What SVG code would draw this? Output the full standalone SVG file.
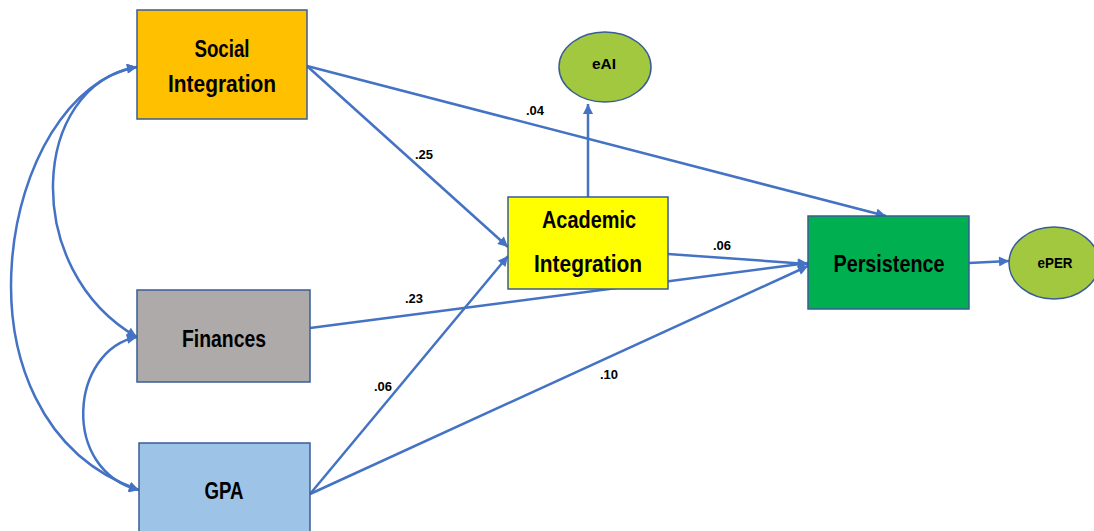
<svg xmlns="http://www.w3.org/2000/svg" width="1094" height="531" viewBox="0 0 1094 531">
<style>
.box{stroke:#3A5C98;stroke-width:1.5}
.ell{fill:#A1C83E;stroke:#3A5C98;stroke-width:1.5}
.lbl{font-family:"Liberation Sans",Arial,sans-serif;font-weight:bold;font-size:24px;fill:#000;text-anchor:middle}
.sm{font-family:"Liberation Sans",Arial,sans-serif;font-weight:bold;font-size:15px;fill:#000;text-anchor:middle}
.coef{font-family:"Liberation Sans",Arial,sans-serif;font-weight:bold;font-size:13px;fill:#000;text-anchor:middle}
.c{fill:none;stroke:#4472C4;stroke-width:2.5;marker-end:url(#ah)}
.d{fill:none;stroke:#4472C4;stroke-width:2.5;marker-end:url(#ah);marker-start:url(#ah)}
</style>
<defs>
<marker id="ah" viewBox="0 0 10 10" refX="10" refY="5" markerWidth="4.6" markerHeight="4" orient="auto-start-reverse" markerUnits="strokeWidth">
<path d="M0,0 L10,5 L0,10 z" fill="#4472C4"/>
</marker>
</defs>
<rect width="1094" height="531" fill="#fff"/>
<g id="connectors">
<path class="d" d="M137,67 C30,85 20,270 137,337"/>
<path class="d" d="M137,67 C0,90 -60,420 139,490"/>
<path class="d" d="M137,337 C70,350 60,470 139,490"/>
<path class="c" d="M307,66 L508,247"/>
<path class="c" d="M307,66 L886,216"/>
<path class="c" d="M310,328 L808,263"/>
<path class="c" d="M668,254 L808,264"/>
<path class="c" d="M310,494 L508,256"/>
<path class="c" d="M310,494 L808,266"/>
<path class="c" d="M588,197 L588,104"/>
<path class="c" d="M969,263 L1009,261"/>
<text class="coef" x="424" y="159">.25</text>
<text class="coef" x="535" y="115">.04</text>
<text class="coef" x="722" y="250">.06</text>
<text class="coef" x="414" y="303">.23</text>
<text class="coef" x="383" y="391">.06</text>
<text class="coef" x="609" y="379">.10</text>
</g>
<g id="social">
<rect class="box" x="137" y="10" width="170" height="109" fill="#FFC000"/>
<text class="lbl" x="222" y="57" textLength="55" lengthAdjust="spacingAndGlyphs">Social</text>
<text class="lbl" x="222" y="92" textLength="108" lengthAdjust="spacingAndGlyphs">Integration</text>
</g>
<g id="finances">
<rect class="box" x="137" y="290" width="173" height="92" fill="#AEAAAA"/>
<text class="lbl" x="224" y="347" textLength="84" lengthAdjust="spacingAndGlyphs">Finances</text>
</g>
<g id="gpa">
<rect class="box" x="139" y="443" width="171" height="95" fill="#9DC3E6"/>
<text class="lbl" x="224" y="499" textLength="39" lengthAdjust="spacingAndGlyphs">GPA</text>
</g>
<g id="academic">
<rect class="box" x="508" y="197" width="160" height="92" fill="#FFFF00"/>
<text class="lbl" x="589" y="228" textLength="94" lengthAdjust="spacingAndGlyphs">Academic</text>
<text class="lbl" x="588" y="272" textLength="108" lengthAdjust="spacingAndGlyphs">Integration</text>
</g>
<g id="persistence">
<rect class="box" x="808" y="216" width="161" height="93" fill="#00B050"/>
<text class="lbl" x="889" y="272" textLength="111" lengthAdjust="spacingAndGlyphs">Persistence</text>
</g>
<g id="eAI">
<ellipse class="ell" cx="605" cy="67" rx="46" ry="35"/>
<text class="sm" x="604" y="69" textLength="24" lengthAdjust="spacingAndGlyphs">eAI</text>
</g>
<g id="ePER">
<ellipse class="ell" cx="1054" cy="263" rx="45" ry="36"/>
<text class="sm" x="1055" y="268" textLength="35" lengthAdjust="spacingAndGlyphs">ePER</text>
</g>
</svg>
